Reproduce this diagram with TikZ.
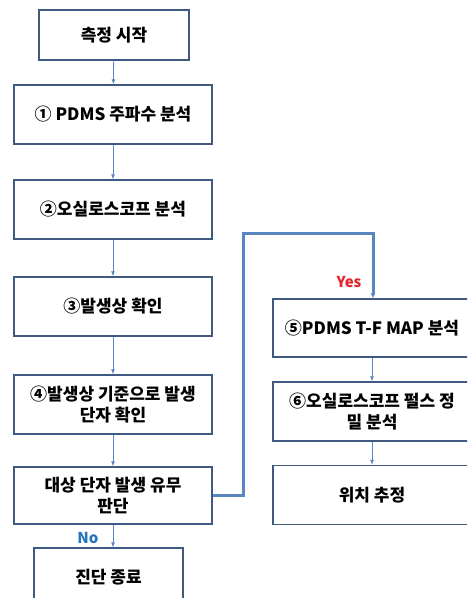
\documentclass[tikz,border=0pt]{standalone}
\usepackage{fontspec}
\setmainfont{Noto Sans CJK KR}
\usetikzlibrary{arrows.meta}

\definecolor{boxline}{HTML}{3E5A80}
\definecolor{flowline}{HTML}{5A86C0}
\definecolor{yesred}{HTML}{E3222B}
\definecolor{noblue}{HTML}{2474BC}

\tikzset{
	stepbox/.style = {draw = boxline, line width = 1.4pt, fill = white, align = center,
		minimum width = 198pt, minimum height = 59pt, inner sep = 0pt,
		font = \fontsize{17}{21}\selectfont\bfseries},
	flow/.style = {draw = flowline, line width = 0.8pt, -{Latex[length = 5pt, width = 4pt]}},
	branch/.style = {draw = flowline, line width = 3pt, -{Latex[length = 5pt, width = 5pt]}},
	answer/.style = {font = \fontsize{15}{17}\selectfont\bfseries, inner sep = 0pt}
}

\begin{document}
\begin{tikzpicture}[x = 1pt, y = -1pt]

	\useasboundingbox (0, 0) rectangle (467, 598);
	\clip (0, 0) rectangle (467, 598);

	% Main column

	\node [stepbox, minimum width = 150pt, minimum height = 50pt] (start) at (114, 35) {측정 시작};
	\node [stepbox] (pdms) at (113, 114.5) {① PDMS 주파수 분석};
	\node [stepbox] (scope) at (113, 209.5) {②오실로스코프 분석};
	\node [stepbox] (phase) at (113, 306.5) {③발생상 확인};
	\node [stepbox] (terminal) at (113, 404.5) {④발생상 기준으로 발생\\단자 확인};
	\node [stepbox, minimum height = 57pt] (judge) at (113, 495.5) {대상 단자 발생 유무\\판단};
	\node [stepbox, minimum width = 149pt] (finish) at (108.5, 577.5) {진단 종료};

	\draw [flow] (start) -- (pdms);
	\draw [flow] (pdms) -- (scope);
	\draw [flow] (scope) -- (phase);
	\draw [flow] (phase) -- (terminal);
	\draw [flow] (terminal) -- (judge);
	\draw [flow] (judge.south) -- (judge.south |- finish.north);
	\node [answer, text = noblue] (no) at (88, 538) {No};

	% Yes branch

	\node [stepbox, minimum height = 58pt] (tfmap) at (372, 328) {⑤PDMS T-F MAP 분석};
	\node [stepbox] (pulse) at (372, 411.5) {⑥오실로스코프 펄스 정\\밀 분석};
	\node [stepbox] (locate) at (372, 495) {위치 추정};

	\coordinate (turn) at (243, 233);
	\draw [branch] (judge.east) -| (turn) -| ([xshift = 1pt] tfmap.north);
	\node [answer, text = yesred] (yes) at (349, 282) {Yes};

	\draw [flow] (tfmap) -- (pulse);
	\draw [flow] (pulse) -- (locate);

\end{tikzpicture}
\end{document}
